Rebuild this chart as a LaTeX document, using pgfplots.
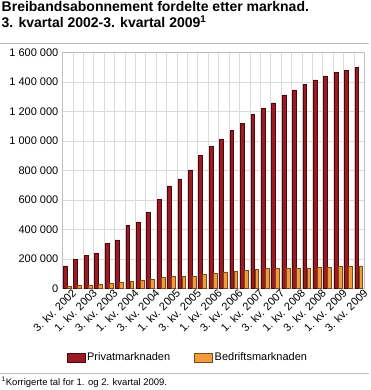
\documentclass[border=0pt]{standalone}
\usepackage{pgfplots}
\pgfplotsset{compat=1.18}
\usepackage{fontspec}
\setmainfont{Liberation Sans}
\definecolor{priv}{HTML}{9A1B22}
\definecolor{privd}{HTML}{4A080C}
\definecolor{bed}{HTML}{F39A3B}
\definecolor{bedd}{HTML}{7A4A18}
\definecolor{gridc}{HTML}{DADADA}
\definecolor{rulec}{HTML}{BFBFBF}
\begin{document}
\begin{tikzpicture}
\begin{axis}[
  at={(0pt,0pt)}, anchor=south west,
  scale only axis, width=302pt, height=236pt,
  xmin=-0.5, xmax=28.5, ymin=0, ymax=1600000,
  scaled y ticks=false,
  ybar, bar width=3.8pt,
  axis line style={rulec},
  xtick={0,2,...,28},
  xticklabels={3. kv. 2002,1. kv. 2003,3. kv. 2003,1. kv. 2004,3. kv. 2004,1. kv. 2005,3. kv. 2005,1. kv. 2006,3. kv. 2006,1. kv. 2007,3. kv. 2007,1. kv. 2008,3. kv. 2008,1. kv. 2009,3. kv. 2009},
  minor xtick={-0.5,0.5,...,28.5},
  xminorgrids, ymajorgrids,
  grid style={gridc, line width=0.8pt},
  minor grid style={gridc, line width=0.8pt},
  major tick length=0pt, minor tick length=0pt,
  ytick={0,200000,...,1600000},
  yticklabels={0,200 000,400 000,600 000,800 000,1 000 000,1 200 000,1 400 000,1 600 000},
  ticklabel style={font=\fontsize{11}{13}\selectfont},
  x tick label style={rotate=45, anchor=north east, inner sep=1pt, xshift=4pt, yshift=-1pt},
  y tick label style={inner sep=0pt, xshift=-4pt},
  legend columns=2,
  legend style={draw=none, overlay, at={(0.415,-0.292)}, anchor=center, font=\fontsize{11}{13}\selectfont,
    /tikz/every even column/.append style={column sep=22pt}},
  legend image code/.code={\draw[#1] (0pt,-4.5pt) rectangle (18pt,4.5pt);},
]
\addplot[fill=priv, draw=privd, line width=0.5pt, bar shift=-2.5pt] coordinates {
(0,154000) (1,199000) (2,224000) (3,242000) (4,305000) (5,330000) (6,427000) (7,452000)
(8,517000) (9,605000) (10,696000) (11,744000) (12,805000) (13,903000) (14,962000)
(15,1014000) (16,1070000) (17,1118000) (18,1183000) (19,1221000) (20,1259000)
(21,1313000) (22,1347000) (23,1386000) (24,1415000) (25,1442000) (26,1464000)
(27,1480000) (28,1500000)};
\addlegendentry{Privatmarknaden}
\addplot[fill=bed, draw=bedd, line width=0.5pt, bar shift=1.5pt] coordinates {
(0,16000) (1,20000) (2,20000) (3,27000) (4,34000) (5,40000) (6,47000) (7,54000)
(8,61000) (9,74000) (10,81000) (11,80000) (12,85000) (13,97000) (14,101000)
(15,112000) (16,117000) (17,121000) (18,128000) (19,135000) (20,135000)
(21,139000) (22,139000) (23,139000) (24,144000) (25,144000) (26,153000)
(27,153000) (28,153000)};
\addlegendentry{Bedriftsmarknaden}
\end{axis}
\path (-62pt,-101.5pt) rectangle (308pt,288.5pt);
\node[anchor=north west, align=left, font=\fontsize{14}{16}\selectfont\bfseries, inner sep=0] at (-61pt,287pt) {Breibandsabonnement fordelte etter marknad.\\3. kvartal 2002-3. kvartal 2009\textsuperscript{1}};
\draw[rulec, line width=1pt] (-62pt,244.5pt) -- (306pt,244.5pt);
\draw[rulec, line width=1pt] (-62pt,-85pt) -- (306pt,-85pt);
\node[anchor=base west, font=\fontsize{9.5}{11}\selectfont, inner sep=0] at (-61pt,-96.5pt) {\textsuperscript{1}Korrigerte tal for 1. og 2. kvartal 2009.};
\end{tikzpicture}
\end{document}
